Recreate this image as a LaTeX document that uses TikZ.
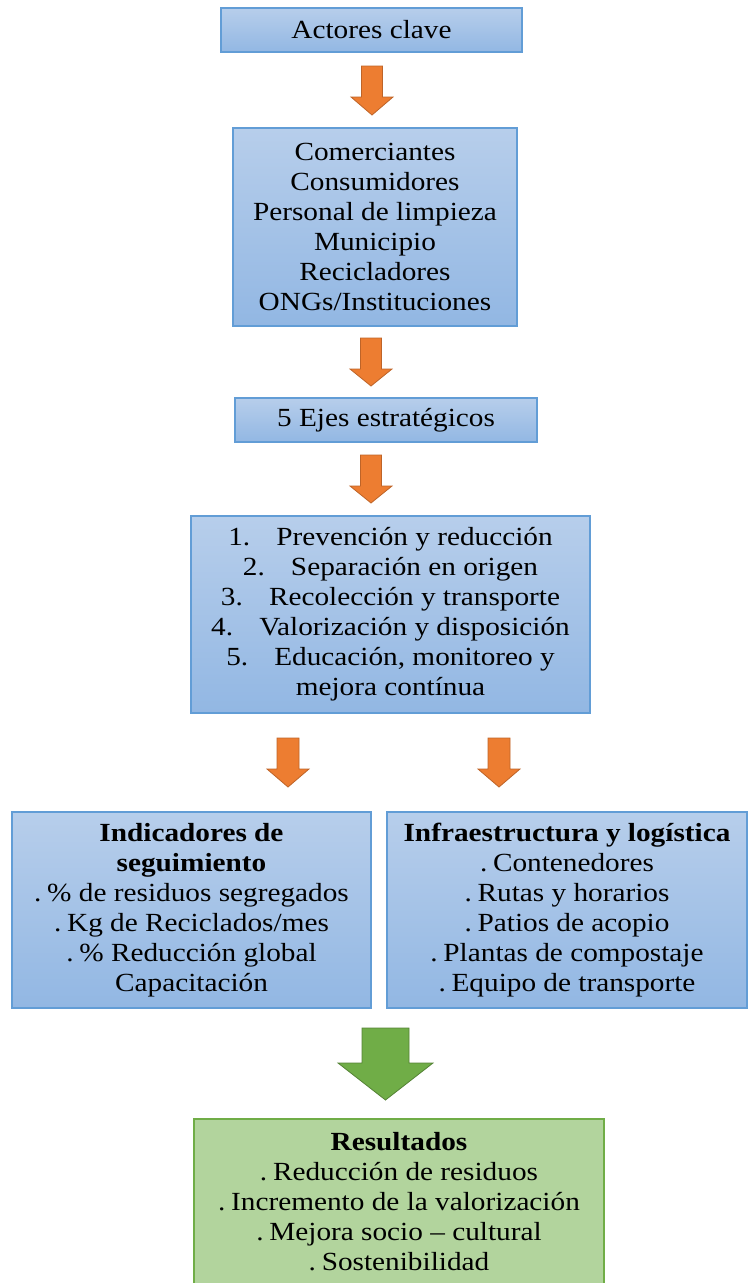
\documentclass[tikz,border=0pt]{standalone}
\usepackage{fontspec}
\setmainfont{Liberation Serif}[FakeStretch=1.12]
\usetikzlibrary{positioning}

\definecolor{boxtop}{RGB}{183,206,235}
\definecolor{boxbot}{RGB}{146,183,227}
\definecolor{boxline}{RGB}{98,157,214}
\definecolor{arrowfill}{RGB}{237,125,49}
\definecolor{arrowline}{RGB}{190,100,40}
\definecolor{greenfill}{RGB}{112,173,71}
\definecolor{greenline}{RGB}{84,130,53}
\definecolor{resfill}{RGB}{178,212,157}
\definecolor{resline}{RGB}{112,173,71}

\tikzset{
	bluebox/.style={draw=boxline, line width=0.8pt, top color=boxtop, bottom color=boxbot, align=center, inner sep=0pt, font=\fontsize{19.6}{22.5}\selectfont},
	greenbox/.style={draw=resline, line width=0.8pt, fill=resfill, align=center, inner sep=0pt, font=\fontsize{19.6}{22.5}\selectfont},
	orangearrow/.style={draw=arrowline, line width=0.6pt, fill=arrowfill, line join=miter},
	greenarrow/.style={draw=greenline, line width=0.6pt, fill=greenfill, line join=miter}
}

% block arrow: style, centre x, top, head start, tip, shaft half width, head half width
\newcommand{\flecha}[7]{
	\draw [#1] (#2-#6,#3) -- (#2+#6,#3) -- (#2+#6,#4) -- (#2+#7,#4) -- (#2,#5) -- (#2-#7,#4) -- (#2-#6,#4) -- cycle;
}
\newcommand{\pt}{.\hspace{0.22em}}

\begin{document}
\begin{tikzpicture}[x=0.75pt,y=-0.75pt]
	\useasboundingbox (0,0) rectangle (748,1283);
	% cajas
	\node [bluebox, minimum width=225.75pt, minimum height=33pt] (actores) at (371.5,30) {Actores clave};
	\node [bluebox, minimum width=213pt, minimum height=148.5pt] (lista) at (375,227) {Comerciantes\\Consumidores\\Personal de limpieza\\Municipio\\Recicladores\\ONGs/Instituciones};
	\node [bluebox, minimum width=226.5pt, minimum height=33pt] (ejes) at (386,420) {5 Ejes estratégicos};
	\node [bluebox, minimum width=299.25pt, minimum height=147.75pt] (estrategias) at (390.5,614.5) {1.\hspace{1em}Prevención y reducción\\2.\hspace{1em}Separación en origen\\3.\hspace{1em}Recolección y transporte\\4.\hspace{1em}Valorización y disposición\\5.\hspace{1em}Educación, monitoreo y\\mejora contínua};
	\node [bluebox, minimum width=269.25pt, minimum height=147pt] (indicadores) at (191.5,910) {\textbf{Indicadores de}\\\textbf{seguimiento}\\\pt\% de residuos segregados\\\pt Kg de Reciclados/mes\\\pt\% Reducción global\\Capacitación};
	\node [bluebox, minimum width=270pt, minimum height=147pt] (infra) at (567,910) {\textbf{Infraestructura y logística}\\\pt Contenedores\\\pt Rutas y horarios\\\pt Patios de acopio\\\pt Plantas de compostaje\\\pt Equipo de transporte};
	\node [greenbox, minimum width=307.5pt, minimum height=124.5pt] (resultados) at (399,1202) {\textbf{Resultados}\\\pt Reducción de residuos\\\pt Incremento de la valorización\\\pt Mejora socio -- cultural\\\pt Sostenibilidad};
	% flechas
	\flecha{orangearrow}{372}{66}{97}{115}{10.5}{21}
	\flecha{orangearrow}{371}{338}{369}{386}{10.5}{21}
	\flecha{orangearrow}{371}{455}{486}{503}{10.5}{21}
	\flecha{orangearrow}{288}{738}{769}{787}{11}{21}
	\flecha{orangearrow}{499}{738}{769}{787}{11}{21}
	\flecha{greenarrow}{385.5}{1028}{1063}{1100}{23.5}{47.5}
\end{tikzpicture}
\end{document}
